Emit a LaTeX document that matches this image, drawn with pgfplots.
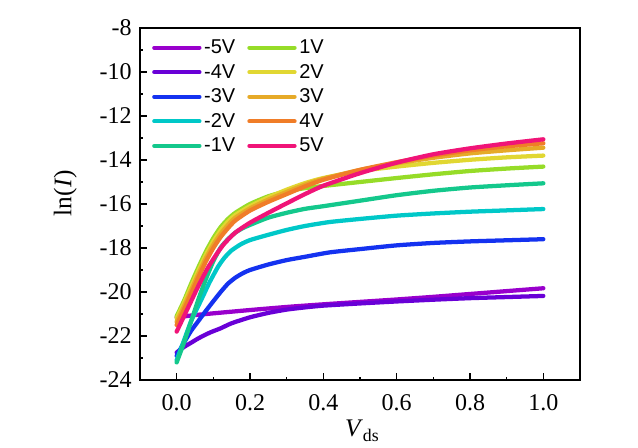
\documentclass[border=0pt]{standalone}
\usepackage{fontspec}
\setmainfont{Liberation Serif}
\newfontfamily\legfont{Liberation Sans}
\usepackage{pgfplots}
\pgfplotsset{compat=1.18}

\definecolor{cmfive}{RGB}{153,0,204}
\definecolor{cmfour}{RGB}{105,0,215}
\definecolor{cmthree}{RGB}{20,50,240}
\definecolor{cmtwo}{RGB}{0,200,200}
\definecolor{cmone}{RGB}{20,200,140}
\definecolor{cpone}{RGB}{150,220,40}
\definecolor{cptwo}{RGB}{225,215,50}
\definecolor{cpthree}{RGB}{230,170,40}
\definecolor{cpfour}{RGB}{240,125,40}
\definecolor{cpfive}{RGB}{240,20,120}

\begin{document}
\begin{tikzpicture}
\begin{axis}[
  at={(0,0)}, anchor=south west,
  width=330pt, height=264pt, scale only axis,
  xmin=-0.1, xmax=1.1, ymin=-24, ymax=-8,
  xtick={0,0.2,...,1.0}, ytick={-24,-22,...,-8},
  minor x tick num=1, minor y tick num=1,
  xtick pos=bottom, ytick pos=left,
  tick align=inside,
  major tick length=5pt, minor tick length=2.5pt,
  every tick/.style={black, line width=0.8pt},
  axis line style={line width=1.1pt},
  /pgf/number format/assume math mode=true,
  xticklabel={\pgfmathprintnumber[fixed, fixed zerofill, precision=1]{\tick}},
  tick label style={font=\fontsize{18}{20}\selectfont, inner sep=0pt},
  xticklabel style={anchor=north, yshift=-11pt},
  yticklabel style={anchor=east, xshift=-6pt},
  xlabel={\textit{V}\textsubscript{ds}},
  ylabel={ln(\textit{I})},
  label style={font=\fontsize{19}{21}\selectfont},
  xlabel style={at={(axis description cs:0.505,0)}, anchor=center, yshift=-38pt},
  ylabel style={at={(axis description cs:-0.17,0.531)}, anchor=center},
  every axis plot/.append style={line width=3.2pt, line join=round, line cap=round, smooth, tension=0.35},
  legend image code/.code={\draw[#1, line width=3pt, line cap=round] (0pt,0pt) -- (34pt,0pt);},
  legend style={draw=none, fill=none, at={(axis description cs:0.018,0.975)}, anchor=north west,
    legend columns=2, font=\legfont\fontsize{15}{17}\selectfont,
    nodes={inner xsep=2pt, inner ysep=0pt}, row sep=6.5pt,
    /tikz/every odd column/.append style={column sep=0pt},
    /tikz/every even column/.append style={column sep=7pt},
    legend cell align=left},
]

\addplot[cmfive, forget plot] coordinates {
(0,-21.15)(0.05,-21.05)(0.1,-20.97)(0.2,-20.82)(0.3,-20.68)(0.4,-20.56)(0.5,-20.45)(0.6,-20.34)(0.7,-20.22)(0.8,-20.09)(0.9,-19.96)(1.0,-19.83)
};
\addplot[cmfour, forget plot] coordinates {
(0,-22.75)(0.02,-22.5)(0.04,-22.3)(0.06,-22.1)(0.09,-21.85)(0.12,-21.65)(0.15,-21.42)(0.2,-21.15)(0.25,-20.95)(0.3,-20.8)(0.35,-20.7)(0.4,-20.62)(0.5,-20.52)(0.6,-20.43)(0.7,-20.35)(0.8,-20.28)(0.9,-20.23)(1.0,-20.18)
};
\addplot[cmthree, forget plot] coordinates {
(0,-22.9)(0.02,-22.3)(0.04,-21.75)(0.06,-21.3)(0.08,-20.85)(0.1,-20.42)(0.12,-20.0)(0.14,-19.62)(0.16,-19.35)(0.18,-19.15)(0.2,-19.0)(0.25,-18.75)(0.3,-18.55)(0.35,-18.4)(0.417,-18.2)(0.5,-18.05)(0.6,-17.88)(0.7,-17.77)(0.8,-17.7)(0.9,-17.65)(1.0,-17.6)
};
\addplot[cmtwo, forget plot] coordinates {
(0,-23.1)(0.02,-22.2)(0.04,-21.3)(0.067,-20.36)(0.09,-19.55)(0.113,-18.85)(0.13,-18.45)(0.149,-18.12)(0.175,-17.83)(0.2,-17.64)(0.25,-17.4)(0.3,-17.18)(0.35,-17.0)(0.417,-16.82)(0.5,-16.68)(0.6,-16.53)(0.7,-16.43)(0.8,-16.35)(0.9,-16.29)(1.0,-16.23)
};
\addplot[cmone, forget plot] coordinates {
(0,-23.2)(0.02,-22.3)(0.04,-21.3)(0.06,-20.3)(0.08,-19.4)(0.1,-18.6)(0.12,-17.98)(0.14,-17.6)(0.16,-17.3)(0.18,-17.1)(0.2,-16.95)(0.25,-16.62)(0.3,-16.4)(0.35,-16.22)(0.4,-16.1)(0.5,-15.85)(0.6,-15.6)(0.7,-15.4)(0.8,-15.25)(0.9,-15.15)(1.0,-15.06)
};
\addplot[cpone, forget plot] coordinates {
(0,-21.1)(0.02,-20.4)(0.04,-19.6)(0.06,-18.85)(0.08,-18.15)(0.1,-17.55)(0.12,-17.05)(0.14,-16.68)(0.16,-16.4)(0.2,-16.0)(0.25,-15.65)(0.3,-15.42)(0.35,-15.28)(0.4,-15.18)(0.5,-15.0)(0.6,-14.82)(0.7,-14.65)(0.8,-14.5)(0.9,-14.39)(1.0,-14.3)
};
\addplot[cptwo, forget plot] coordinates {
(0,-21.2)(0.02,-20.5)(0.04,-19.75)(0.06,-19.0)(0.08,-18.3)(0.1,-17.7)(0.12,-17.2)(0.14,-16.8)(0.16,-16.5)(0.2,-16.1)(0.25,-15.7)(0.3,-15.35)(0.35,-15.05)(0.4,-14.82)(0.5,-14.5)(0.6,-14.3)(0.7,-14.13)(0.8,-13.99)(0.9,-13.88)(1.0,-13.8)
};
\addplot[cpthree, forget plot] coordinates {
(0,-21.35)(0.02,-20.65)(0.04,-19.9)(0.06,-19.15)(0.08,-18.45)(0.1,-17.85)(0.12,-17.35)(0.14,-16.95)(0.16,-16.62)(0.2,-16.2)(0.25,-15.8)(0.3,-15.45)(0.35,-15.12)(0.4,-14.85)(0.5,-14.45)(0.6,-14.15)(0.7,-13.9)(0.8,-13.7)(0.9,-13.56)(1.0,-13.44)
};
\addplot[cpfour, forget plot] coordinates {
(0,-21.5)(0.02,-20.8)(0.04,-20.05)(0.06,-19.3)(0.08,-18.6)(0.1,-18.0)(0.12,-17.5)(0.14,-17.1)(0.16,-16.75)(0.2,-16.3)(0.25,-15.9)(0.3,-15.55)(0.35,-15.2)(0.4,-14.9)(0.5,-14.45)(0.6,-14.1)(0.7,-13.8)(0.8,-13.56)(0.9,-13.38)(1.0,-13.24)
};
\addplot[cpfive, forget plot] coordinates {
(0,-21.8)(0.02,-21.1)(0.04,-20.4)(0.06,-19.7)(0.085,-18.9)(0.11,-18.25)(0.13,-17.8)(0.16,-17.3)(0.2,-16.85)(0.25,-16.4)(0.3,-15.97)(0.35,-15.55)(0.4,-15.17)(0.5,-14.6)(0.6,-14.12)(0.7,-13.74)(0.8,-13.47)(0.9,-13.25)(1.0,-13.06)
};

% legend filled row by row: left column negative, right column positive
\addlegendimage{cmfive}\addlegendentry{-5V}
\addlegendimage{cpone}\addlegendentry{1V}
\addlegendimage{cmfour}\addlegendentry{-4V}
\addlegendimage{cptwo}\addlegendentry{2V}
\addlegendimage{cmthree}\addlegendentry{-3V}
\addlegendimage{cpthree}\addlegendentry{3V}
\addlegendimage{cmtwo}\addlegendentry{-2V}
\addlegendimage{cpfour}\addlegendentry{4V}
\addlegendimage{cmone}\addlegendentry{-1V}
\addlegendimage{cpfive}\addlegendentry{5V}
\end{axis}
\path (-105pt,-51pt) rectangle (373.5pt,285pt);
\end{tikzpicture}
\end{document}
